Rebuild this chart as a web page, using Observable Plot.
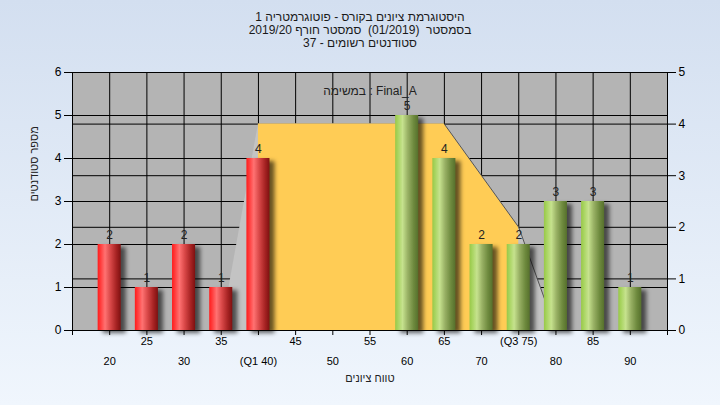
<!DOCTYPE html>
<html><head><meta charset="utf-8">
<script src="https://cdn.jsdelivr.net/npm/d3@7"></script>
<script src="https://cdn.jsdelivr.net/npm/@observablehq/plot@0.6"></script>
<style>
html,body{margin:0;padding:0;}
#wrap{position:relative;width:720px;height:405px;background:linear-gradient(to bottom,#d3dff0,#f0f6fd);font-family:"Liberation Sans","DejaVu Sans",Arial,sans-serif;overflow:hidden;}
#chart{position:absolute;top:0;left:0;}
#title{position:absolute;top:11px;left:0;width:720px;text-align:center;font-size:12px;line-height:13px;color:#1a1a1a;}
#title div{white-space:pre;}
</style></head><body>
<div id="wrap"><div id="chart"></div><div id="title"></div></div>
<script>
// ---- data ----
const titleLines = [
  "היסטוגרמת ציונים בקורס - פוטוגרמטריה 1",
  "בסמסטר  (01/2019)  סמסטר חורף 2019/20",
  "סטודנטים רשומים - 37"
];
const grades = [20,25,30,35,40,45,50,55,60,65,70,75,80,85,90];
const counts = [2,1,2,1,4,0,0,0,5,4,2,2,3,3,1];
const tickLabels = ["20","25","30","35","(Q1 40)","45","50","55","60","65","70","(Q3 75)","80","85","90"];
const areaGrades = [35,40,45,50,55,60,65,70,75,80];
const areaValues = [0,4,4,4,4,4,4,3,2,0];   // right axis units
const q1 = 40, q3 = 75;
const passGrade = 55;
const leftTicks = [0,1,2,3,4,5,6];
const rightTicks = [0,1,2,3,4,5];
const legendText = "במשימה : Final_A";
const yTitle = "מספר סטודנטים";
const xTitle = "טווח ציונים";

// ---- build ----
const R = 6/5; // right-axis to left-axis ratio
document.getElementById("title").innerHTML = titleLines.map(t => `<div>${t}</div>`).join("");

const data = grades.map((g,i)=>({g, n:counts[i]}));
const bars = data.filter(d=>d.n>0);
const area = areaGrades.map((g,i)=>({g, v:areaValues[i]}));
const labelMap = new Map(grades.map((g,i)=>[g, tickLabels[i]]));
const rowA = grades.filter((g,i)=>i%2===1);
const rowB = grades.filter((g,i)=>i%2===0);
const allTicks = d3.range(15, 96, 5);

const plot = Plot.plot({
  width:720, height:405,
  marginLeft:72, marginRight:53, marginTop:72, marginBottom:75,
  style:{background:"transparent", fontFamily:'"Liberation Sans","DejaVu Sans",Arial,sans-serif', fontSize:"11px", color:"#000"},
  x:{domain:[15,95], axis:null, label:null},
  y:{domain:[0,6], axis:null, label:null},
  color:{type:"identity"},
  marks:[
    Plot.frame({fill:"#b4b4b4"}),
    Plot.gridY({ticks:leftTicks, stroke:"#000", strokeOpacity:1}),
    Plot.gridY({ticks:rightTicks.map(v=>v*R), stroke:"#000", strokeOpacity:1}),
    Plot.gridX({ticks:grades, stroke:"#000", strokeOpacity:1}),
    Plot.areaY(area, {x:"g", y:d=>d.v*R, fill:"#c3c3c3"}),
    Plot.areaY(area.filter(d=>d.g>=q1 && d.g<=q3), {x:"g", y:d=>d.v*R, fill:"#ffcc55"}),
    Plot.lineY(area.filter(d=>d.g>=q3-10), {x:"g", y:d=>d.v*R, stroke:"#555", strokeWidth:1}),
    Plot.frame({stroke:"#000"}),
    Plot.axisY({ticks:leftTicks, anchor:"left", label:null, tickSize:8, tickPadding:3, fontSize:12, tickFormat:d=>String(d)}),
    Plot.axisY({ticks:rightTicks.map(v=>v*R), anchor:"right", label:null, tickSize:8, tickPadding:3, fontSize:12, tickFormat:d=>String(Math.round(d/R))}),
    Plot.axisX({ticks:allTicks, anchor:"bottom", label:null, tickSize:5, tickFormat:()=>""}),
    Plot.axisX({ticks:rowA, anchor:"bottom", label:null, tickSize:0, tickPadding:7, fontSize:11, tickFormat:d=>labelMap.get(d)}),
    Plot.axisX({ticks:rowB, anchor:"bottom", label:null, tickSize:0, tickPadding:27, fontSize:11, tickFormat:d=>labelMap.get(d)}),
    Plot.rectY(bars, {x1:d=>d.g-1.55, x2:d=>d.g+1.55, y:"n", fill:d=>d.g<passGrade ? "url(#gRed)" : "url(#gGreen)"}),
    Plot.text(bars, {x:"g", y:"n", text:d=>String(d.n), dy:-9, fontSize:12, fill:"#222"}),
    Plot.text([legendText], {frameAnchor:"top", dy:14, fontSize:12, fill:"#222", text:d=>d}),
    Plot.text([yTitle], {frameAnchor:"left", dx:-38, rotate:-90, fontSize:11, fill:"#222", text:d=>d}),
    Plot.text([xTitle], {frameAnchor:"bottom", dy:51, fontSize:11, fill:"#222", text:d=>d})
  ]
});
document.getElementById("chart").appendChild(plot);

const svg = d3.select(plot);
const defs = svg.insert("defs", ":first-child");
function grad(id, stops){
  const g = defs.append("linearGradient").attr("id", id).attr("x1",0).attr("x2",1).attr("y1",0).attr("y2",0);
  stops.forEach(([o,c]) => g.append("stop").attr("offset", o).attr("stop-color", c));
}
grad("gRed", [[0,"#ff1c1c"],[0.12,"#ff3a3a"],[0.32,"#ff7272"],[0.55,"#d94848"],[0.8,"#a82424"],[1,"#7e1010"]]);
grad("gGreen", [[0,"#98c848"],[0.12,"#a8d460"],[0.32,"#c6e28e"],[0.55,"#98b064"],[0.8,"#6e8a3e"],[1,"#56702c"]]);
svg.selectAll('g[aria-label="rect"]').style("filter", "drop-shadow(5px 3px 2px rgba(0,0,0,0.6))");
</script>
</body></html>
